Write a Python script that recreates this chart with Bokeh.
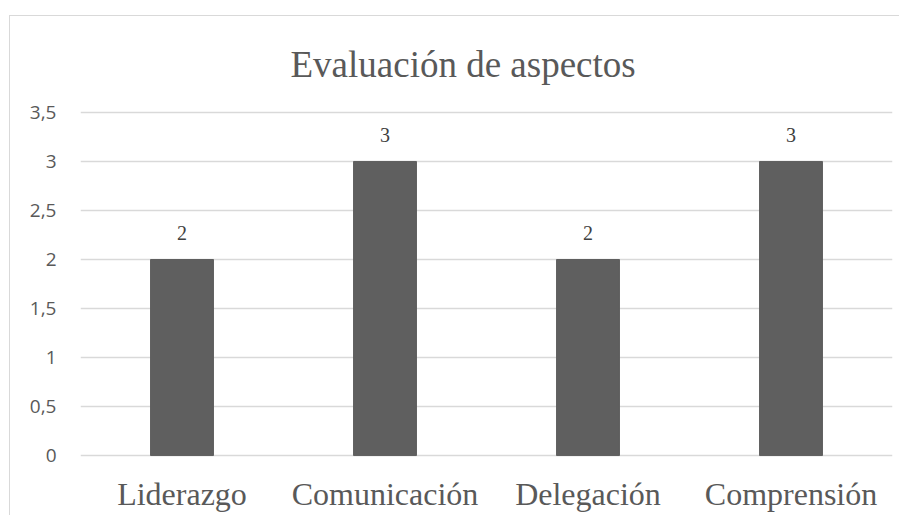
from bokeh.plotting import figure
from bokeh.models import (ColumnDataSource, FactorRange, Range1d, FixedTicker,
                          CustomJSTickFormatter, LabelSet)
from bokeh.embed import file_html
from bokeh.resources import INLINE

categories = ["Liderazgo", "Comunicación", "Delegación", "Comprensión"]
values = [2, 3, 2, 3]
value_labels = ["2", "3", "2", "3"]
y_ticks = [0, 0.5, 1, 1.5, 2, 2.5, 3, 3.5]

src = ColumnDataSource(dict(cat=categories, val=values, lab=value_labels))

p = figure(width=890, height=500, x_range=FactorRange(*categories),
           y_range=Range1d(-0.02, 3.52), output_backend="svg", toolbar_location=None,
           min_border_left=70, min_border_right=8, min_border_top=94,
           min_border_bottom=59)
p.styles = {"border-top": "1px solid #d9d9d9", "border-left": "1px solid #d9d9d9",
            "margin-top": "15px", "margin-left": "9px"}

p.title.text = "Evaluación de aspectos"
p.title.align = "left"
p.title.offset = 210
p.title.text_font = "Liberation Serif"
p.title.text_font_size = "37px"
p.title.text_font_style = "normal"
p.title.text_color = "#595959"
p.title.standoff = 51

p.vbar(x="cat", top="val", width=0.31, source=src, color="#5f5f5f")

labels = LabelSet(x="cat", y="val", text="lab", source=src, text_align="center",
                  text_baseline="bottom", y_offset=19, text_font_size="20px",
                  text_font="Open Sans", text_color="#404040")
p.add_layout(labels)

p.outline_line_color = None
p.xgrid.grid_line_color = None
p.ygrid.grid_line_color = "#d9d9d9"
p.ygrid.grid_line_width = 1.5
p.yaxis.ticker = FixedTicker(ticks=y_ticks)
p.yaxis.formatter = CustomJSTickFormatter(code="return tick.toString().replace('.', ',');")
for ax in (p.xaxis[0], p.yaxis[0]):
    ax.axis_line_color = None
    ax.major_tick_line_color = None
    ax.minor_tick_line_color = None
    ax.major_label_text_color = "#595959"
p.yaxis.major_label_text_font = "Open Sans"
p.yaxis.major_label_text_font_size = "19px"
p.yaxis.major_label_standoff = 18
p.xaxis.major_label_text_font = "Liberation Serif"
p.xaxis.major_label_text_font_size = "32px"
p.xaxis.major_label_standoff = 12

open("out.html", "w").write(file_html(p, INLINE))
